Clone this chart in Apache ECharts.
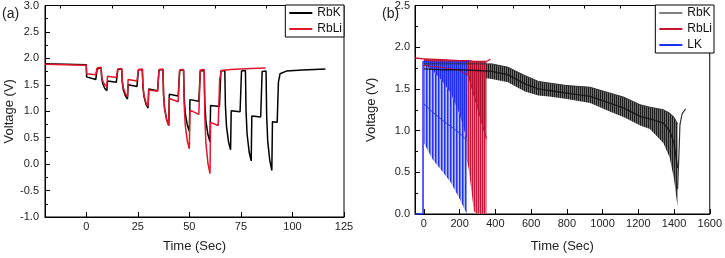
<!DOCTYPE html>
<html>
<head>
<meta charset="utf-8">
<script src="https://cdn.jsdelivr.net/npm/echarts@6/dist/echarts.min.js"></script>
<style>
  html, body { margin: 0; padding: 0; background: #fff; }
  #chart { width: 725px; height: 258px; }
</style>
</head>
<body>
<div id="chart"></div>
<script>
// panel (a): pulse discharge, [time, voltage]
const rbkPulse = [
  [-20, 1.90], [-10, 1.89], [0, 1.88],
  [0.2, 1.65], [4.6, 1.60], [5.3, 1.80], [7.2, 1.82], [7.5, 1.63], [8, 1.52], [9, 1.43], [10, 1.39],
  [10.3, 1.57], [14.6, 1.55], [15.3, 1.79], [17.2, 1.80], [17.5, 1.54], [18, 1.40], [19, 1.29], [20, 1.23],
  [20.3, 1.50], [24.6, 1.47], [25.3, 1.78], [27.2, 1.79], [27.5, 1.46], [28, 1.28], [29, 1.13], [30, 1.06],
  [30.3, 1.42], [34.6, 1.39], [35.3, 1.78], [37.2, 1.79], [37.5, 1.31], [38, 1.05], [39, 0.84], [40, 0.73],
  [40.3, 1.32], [44.6, 1.29], [45.3, 1.77], [47.2, 1.78], [47.5, 1.26], [48, 0.97], [49, 0.74], [50, 0.62],
  [50.3, 1.22], [54.6, 1.19], [55.3, 1.76], [57.2, 1.77], [57.5, 1.16], [58, 0.83], [59, 0.56], [60, 0.42],
  [60.3, 1.11], [64.6, 1.09], [65.3, 1.76], [67.2, 1.77], [67.5, 1.10], [68, 0.72], [69, 0.42], [70, 0.27],
  [70.3, 1.01], [74.6, 0.99], [75.3, 1.76], [77.2, 1.77], [77.5, 1.00], [78, 0.57], [79, 0.23], [80, 0.06],
  [80.3, 0.91], [84.6, 0.89], [85.3, 1.75], [87.2, 1.76], [87.5, 0.91], [88, 0.44], [89, 0.07], [90, -0.12],
  [90.3, 0.80], [92.6, 0.79], [93.2, 1.55], [94, 1.71], [97, 1.76], [105, 1.78], [116, 1.80]
]
const rbliPulse = [
  [-20, 1.89], [-10, 1.88], [0, 1.87],
  [0.2, 1.71], [4.6, 1.69], [5.3, 1.82], [7.2, 1.83], [7.5, 1.66], [8, 1.57], [9, 1.50], [10, 1.46],
  [10.3, 1.66], [14.6, 1.64], [15.3, 1.80], [17.2, 1.81], [17.5, 1.57], [18, 1.44], [19, 1.33], [20, 1.28],
  [20.3, 1.60], [24.6, 1.57], [25.3, 1.79], [27.2, 1.80], [27.5, 1.48], [28, 1.30], [29, 1.16], [30, 1.09],
  [30.3, 1.40], [34.6, 1.38], [35.3, 1.79], [37.2, 1.80], [37.5, 1.32], [38, 1.05], [39, 0.84], [40, 0.73],
  [40.3, 1.24], [44.6, 1.18], [45.3, 1.78], [47.2, 1.79], [47.5, 1.12], [48, 0.74], [49, 0.44], [50, 0.29],
  [50.3, 1.02], [54.6, 0.94], [55.3, 1.78], [57.2, 1.79], [57.5, 0.91], [58, 0.41], [59, 0.02], [60, -0.18],
  [60.3, 0.79], [64, 0.73], [64.7, 1.60], [65.5, 1.77], [70, 1.79], [80, 1.81], [87, 1.82]
]
const timeTicksA = [0, 25, 50, 75, 100, 125]
const timeMinorA = [-12.5, 12.5, 37.5, 62.5, 87.5, 112.5]

// panel (b): continuous pulsing, envelopes of the pulse train
const rbkTime = [0, 100, 200, 300, 380, 470, 565, 640, 700, 800, 930, 1040, 1120, 1210, 1265, 1340, 1375, 1400, 1420]
const rbkTop = [1.80, 1.80, 1.80, 1.80, 1.80, 1.76, 1.66, 1.59, 1.57, 1.54, 1.52, 1.45, 1.40, 1.31, 1.28, 1.25, 1.21, 1.16, 1.08]
const rbkMid = [1.74, 1.73, 1.73, 1.72, 1.71, 1.67, 1.56, 1.50, 1.48, 1.45, 1.41, 1.33, 1.27, 1.17, 1.14, 1.09, 1.00, 0.85, 0.55]
const rbkLow = [1.66, 1.66, 1.65, 1.64, 1.62, 1.58, 1.47, 1.42, 1.41, 1.38, 1.33, 1.23, 1.16, 1.06, 1.02, 0.85, 0.68, 0.42, 0.08]
const rbkTail = [[1420, 0.30], [1428, 0.75], [1433, 1.07], [1445, 1.20], [1465, 1.26]]

const rbliTime = [0, 100, 200, 250, 280, 300, 350]
const rbliTop = [1.86, 1.85, 1.84, 1.84, 1.83, 1.83, 1.83]
const rbliMid = [1.78, 1.76, 1.72, 1.66, 1.42, 1.28, 0.90]
const rbliLow = [1.62, 1.40, 1.00, 0.55, 0.03, 0.00, 0.00]
const rbliHead = [[-50, 1.87], [0, 1.86]]
const rbliTail = [[350, 1.83], [362, 1.84], [372, 1.86]]

const lkTime = [0, 50, 100, 150, 200, 240]
const lkTop = [1.83, 1.82, 1.82, 1.82, 1.82, 1.82]
const lkDense = [1.80, 1.72, 1.60, 1.45, 1.20, 0.90]
const lkMid = [1.32, 1.22, 1.13, 1.05, 0.97, 0.88]
const lkLow = [0.85, 0.65, 0.52, 0.38, 0.18, 0.00]
const lkHead = [[-50, 0], [-5, 0], [-5, 1.83], [0, 1.83]]
const lkTail = [[240, 1.82], [250, 1.84]]

const timeTicksB = [0, 200, 400, 600, 800, 1000, 1200, 1400, 1600]
const timeMinorB = [100, 300, 500, 700, 900, 1100, 1300, 1500]

const font = 'Liberation Sans, Arial, sans-serif'

// vertical stripe fill that stands in for the dense pulse lines
function stripes(colors) {
  const c = document.createElement('canvas')
  c.width = colors.length
  c.height = 4
  const ctx = c.getContext('2d')
  colors.forEach((col, i) => {
    ctx.fillStyle = col
    ctx.fillRect(i, 0, 1, 4)
  })
  return { image: c, repeat: 'repeat' }
}

function pairs(times, vals) {
  return times.map((t, i) => [t, vals[i]])
}

// band between an upper and a lower envelope, drawn as one polygon
function band(times, upper, lower, fill) {
  const rows = times.map((t, i) => [t, upper[i], lower[i]])
  return {
    type: 'custom',
    xAxisIndex: 2,
    yAxisIndex: 1,
    silent: true,
    clip: true,
    encode: { x: 0, y: [1, 2] },
    data: rows,
    renderItem: (params, api) => {
      if (params.dataIndex !== 0) return null
      const top = rows.map(r => api.coord([r[0], r[1]]))
      const bottom = rows.slice().reverse().map(r => api.coord([r[0], r[2]]))
      return {
        type: 'polygon',
        shape: { points: top.concat(bottom) },
        style: { fill: fill, stroke: null }
      }
    }
  }
}

function lineB(name, data, color, width, opacity) {
  return {
    name: name,
    type: 'line',
    xAxisIndex: 2,
    yAxisIndex: 1,
    symbol: 'none',
    silent: true,
    lineStyle: { color: color, width: width || 1, opacity: opacity || 1 },
    data: data
  }
}

function timeAxis(grid, min, max, labels, ticks, show) {
  return {
    type: 'value',
    gridIndex: grid,
    min: min,
    max: max,
    name: show ? 'Time (Sec)' : '',
    nameLocation: 'middle',
    nameGap: grid === 0 ? 23 : 26,
    nameTextStyle: { fontFamily: font, fontSize: 13, color: '#222' },
    axisLine: { show: show, onZero: false, lineStyle: { color: '#000' } },
    axisTick: { show: true, inside: true, length: show ? 5 : 3, customValues: ticks, lineStyle: { color: '#000' } },
    axisLabel: { show: show, customValues: labels, margin: 4, fontFamily: font, fontSize: 11, color: '#222', formatter: v => String(v) },
    splitLine: { show: false }
  }
}

function voltAxis(grid, min, max, gap, margin) {
  return {
    type: 'value',
    gridIndex: grid,
    min: min,
    max: max,
    interval: 0.5,
    name: 'Voltage (V)',
    nameLocation: 'middle',
    nameGap: gap,
    nameTextStyle: { fontFamily: font, fontSize: 13, color: '#222' },
    axisLine: { show: true, onZero: false, lineStyle: { color: '#000' } },
    axisTick: { inside: true, length: 5, lineStyle: { color: '#000' } },
    minorTick: { show: true, splitNumber: 2, length: 3, lineStyle: { color: '#000' } },
    axisLabel: { margin: margin, fontFamily: font, fontSize: 11, color: '#222', formatter: v => v.toFixed(1) },
    splitLine: { show: false }
  }
}

function legendBox(right, names) {
  return {
    orient: 'vertical',
    right: right,
    top: 5,
    padding: [2, 2, 2, 3],
    itemWidth: 23,
    itemHeight: 10,
    itemGap: 4,
    borderColor: '#000',
    borderWidth: 1,
    backgroundColor: '#fff',
    selectedMode: false,
    itemStyle: { opacity: 0 },
    formatter: name => name.trim(),
    textStyle: { fontFamily: font, fontSize: 12, color: '#111' },
    data: names
  }
}

const chart = echarts.init(document.getElementById('chart'))

const series = [
  {
    name: 'RbK',
    type: 'line',
    xAxisIndex: 0,
    yAxisIndex: 0,
    symbol: 'none',
    lineStyle: { color: '#000', width: 1.5 },
    data: rbkPulse
  },
  {
    name: 'RbLi',
    type: 'line',
    xAxisIndex: 0,
    yAxisIndex: 0,
    symbol: 'none',
    lineStyle: { color: '#e3162a', width: 1.5 },
    data: rbliPulse
  },
  band(rbkTime, rbkTop, rbkLow, stripes(['#1e1e1e', '#6e6e6e'])),
  lineB('rbk-top', pairs(rbkTime, rbkTop), '#333', 1),
  lineB('rbk-tail', rbkTail, '#333', 1.2),
  band(rbliTime, rbliMid, rbliLow, stripes(['#c41a36', '#e07b8c'])),
  band(rbliTime, rbliTop, rbliMid, stripes(['#b20f2a', '#c94058'])),
  lineB('rbli-top', pairs(rbliTime, rbliTop), '#c41230', 1.2),
  lineB('rbli-mid', pairs(rbliTime, rbliMid), '#b0102a', 1),
  lineB('rbli-head', rbliHead, '#c41230', 1.5),
  lineB('rbli-tail', rbliTail, '#c41230', 1.2),
  band(lkTime, lkDense, lkLow, stripes(['#2233f0', '#6c79f4', '#b6bdf9'])),
  band(lkTime, lkTop, lkDense, stripes(['#1a2cee', '#4f5ff2'])),
  lineB('lk-top', pairs(lkTime, lkTop), '#1e30ee', 1.2),
  lineB('lk-mid', pairs(lkTime, lkMid), '#2233ee', 1),
  lineB('lk-head', lkHead, '#1e30ee', 1.5),
  lineB('lk-tail', lkTail, '#1e30ee', 1.2),
  // the dark centre trace of RbK shows over the other two
  lineB('rbk-mid', pairs(rbkTime, rbkMid), '#111', 1.4, 0.85),
  // legend entries for panel (b)
  lineB('RbK ', [], '#808080', 1.5),
  lineB('RbLi ', [], '#c41230', 1.5),
  lineB('LK', [], '#1e30ee', 1.5)
]

chart.setOption({
  animation: false,
  backgroundColor: '#fff',
  grid: [
    { left: 45, top: 5, width: 299, height: 220, show: true, borderColor: '#000', borderWidth: 1 },
    { left: 415, top: 5, width: 299, height: 219, show: true, borderColor: '#000', borderWidth: 1 }
  ],
  xAxis: [
    timeAxis(0, -20, 125, timeTicksA, timeTicksA, true),
    timeAxis(0, -20, 125, [], timeMinorA, false),
    timeAxis(1, -50, 1600, timeTicksB, timeTicksB, true),
    timeAxis(1, -50, 1600, [], timeMinorB, false)
  ],
  yAxis: [
    voltAxis(0, -1, 3, 28, 6),
    voltAxis(1, 0, 2.5, 37, 5)
  ],
  legend: [
    legendBox(381, ['RbK', 'RbLi']),
    legendBox(11, ['RbK ', 'RbLi ', 'LK'])
  ],
  graphic: [
    { type: 'text', left: 2, top: 7, style: { text: '(a)', font: '14px ' + font, fill: '#222' } },
    { type: 'text', left: 382, top: 7, style: { text: '(b)', font: '14px ' + font, fill: '#222' } }
  ],
  series: series
})
</script>
</body>
</html>
